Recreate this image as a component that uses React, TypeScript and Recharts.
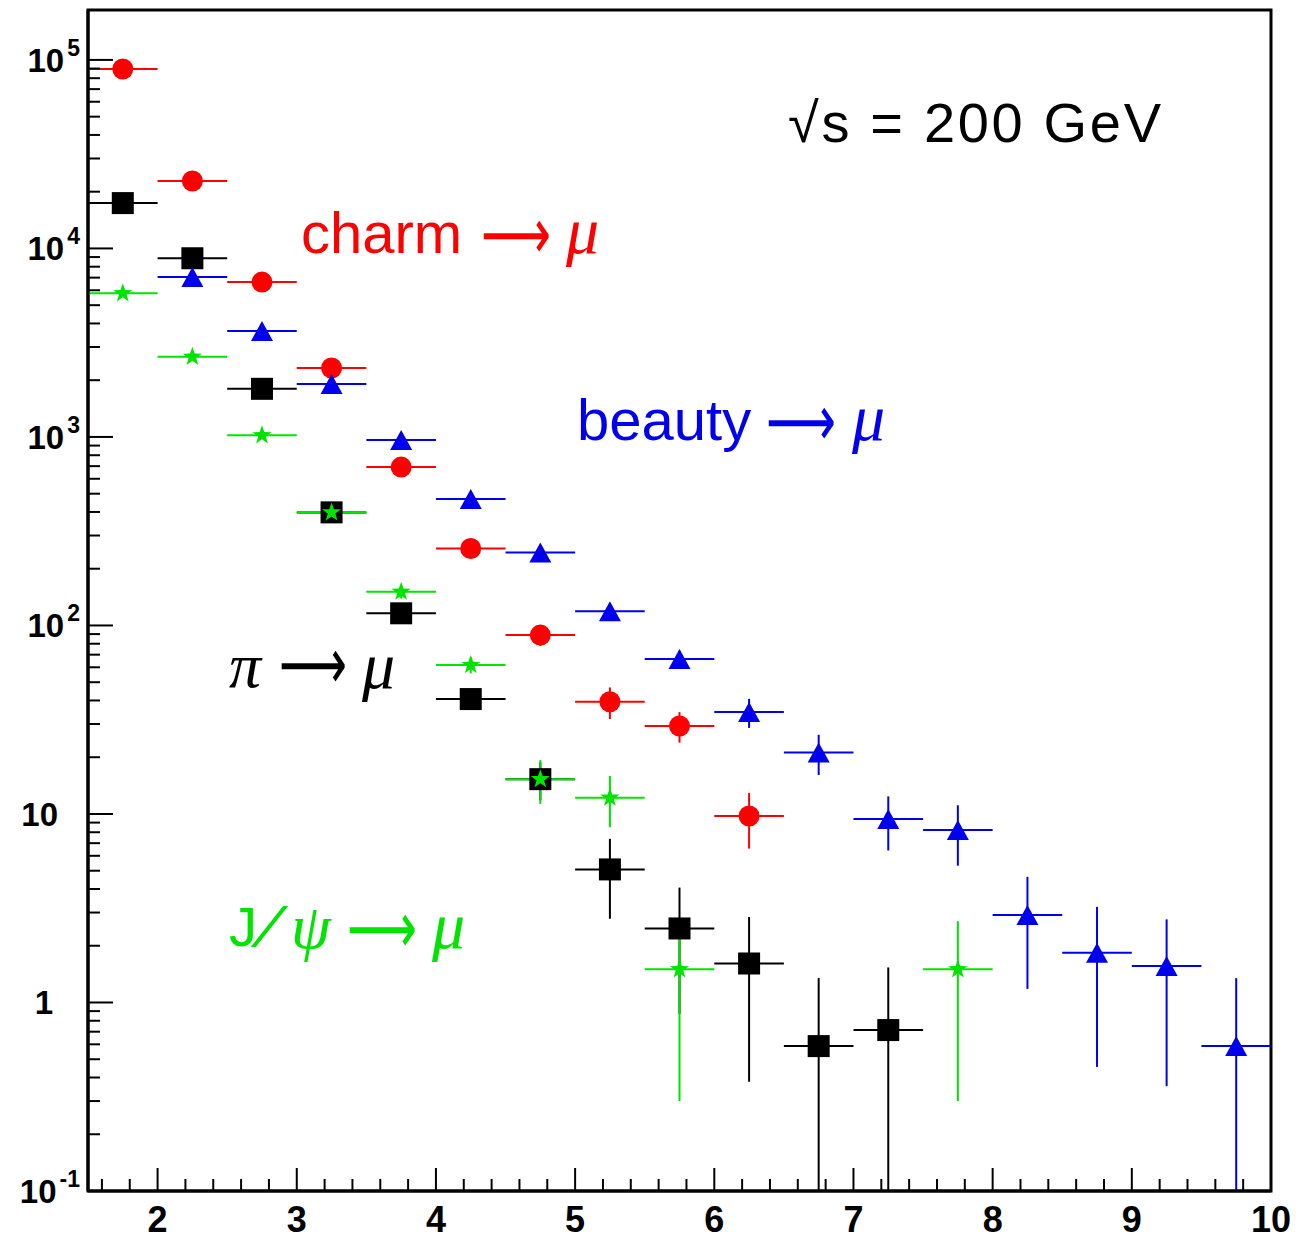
import React from 'react'
import { ScatterChart, Scatter, XAxis, YAxis, ErrorBar, ReferenceArea } from 'recharts'

// bin centres (pT, GeV/c), every bin is 0.5 wide
const BIN_HALF = 0.25

const PION_X = [1.75, 2.25, 2.75, 3.25, 3.75, 4.25, 4.75, 5.25, 5.75, 6.25, 6.75, 7.25]
const PION_Y = [1.74e4, 8.87e3, 1.8e3, 398, 116, 40.7, 15.3, 5.08, 2.47, 1.61, 0.587, 0.714]
const PION_ERR = [0, 0, 0, 0, 10, 5, 3.5, 2.3, 1.6, 1.23, 0.76, 0.82]

const CHARM_X = [1.75, 2.25, 2.75, 3.25, 3.75, 4.25, 4.75, 5.25, 5.75, 6.25]
const CHARM_Y = [8.95e4, 2.28e4, 6.63e3, 2.32e3, 692, 256, 88.9, 39.4, 29.3, 9.75]
const CHARM_ERR = [0, 0, 0, 0, 35, 18, 11, 7.5, 5.4, 3.2]

const BEAUTY_X = [2.25, 2.75, 3.25, 3.75, 4.25, 4.75, 5.25, 5.75, 6.25, 6.75, 7.25, 7.75, 8.25, 8.75, 9.25, 9.75]
const BEAUTY_Y = [7.05e3, 3.65e3, 1.91e3, 963, 469, 244, 119, 66.3, 34.7, 21.2, 9.4, 8.22, 2.91, 1.835, 1.56, 0.587]
const BEAUTY_ERR = [0, 0, 0, 40, 25, 17, 11, 7, 6.1, 5.1, 3.0, 2.9, 1.73, 1.38, 1.2, 0.76]

const JPSI_X = [1.75, 2.25, 2.75, 3.25, 3.75, 4.25, 4.75, 5.25, 5.75, 7.75]
const JPSI_Y = [5.78e3, 2.66e3, 1.02e3, 398, 151, 61.7, 15.3, 12.2, 1.5, 1.5]
const JPSI_ERR = [0, 0, 0, 0, 12, 6, 4.0, 3.7, 1.2, 1.2]

const X_MIN = 1.5
const X_MAX = 10
const Y_MIN = 0.1
const Y_MAX = 1.84e5

// minor ticks every 0.2, labels on the integers
const X_TICKS: number[] = []
for (let i = 8; i <= 50; i++) X_TICKS.push(Math.round(i * 2) / 10)

// log ticks 1..9 x 10^n
const Y_TICKS: number[] = []
for (let e = -1; e <= 5; e++) {
  for (let m = 1; m <= 9; m++) {
    const v = Number((m * Math.pow(10, e)).toPrecision(3))
    if (v <= Y_MAX) Y_TICKS.push(v)
  }
}

const RED = '#ff0000'
const BLUE = '#0000ee'
const GREEN = '#00e400'
const BLACK = '#000000'

const TICK_FONT = '"Liberation Sans", Arial, Helvetica, sans-serif'
const SANS = '"Liberation Sans", Arial, Helvetica, sans-serif'
const SERIF = '"Liberation Serif", "Times New Roman", serif'
const ARROW_FONT = '"DejaVu Sans", sans-serif'

function toPoints(xs: number[], ys: number[], errs: number[]) {
  return xs.map((x, i) => ({
    x,
    y: ys[i],
    ex: BIN_HALF,
    // low side stops at the bottom of the frame
    ey: [Math.min(errs[i], ys[i] - Y_MIN), errs[i]],
  }))
}

const pionData = toPoints(PION_X, PION_Y, PION_ERR)
const charmData = toPoints(CHARM_X, CHARM_Y, CHARM_ERR)
const beautyData = toPoints(BEAUTY_X, BEAUTY_Y, BEAUTY_ERR)
const jpsiData = toPoints(JPSI_X, JPSI_Y, JPSI_ERR)

const circleShape = (color: string) => (p: any) => (
  <circle cx={p.cx} cy={p.cy} r={10.5} fill={color} />
)
const squareShape = (color: string) => (p: any) => (
  <rect x={p.cx - 11} y={p.cy - 11} width={22} height={22} fill={color} />
)
const triangleShape = (color: string) => (p: any) => (
  <polygon
    points={`${p.cx},${p.cy - 10} ${p.cx + 11},${p.cy + 10} ${p.cx - 11},${p.cy + 10}`}
    fill={color}
  />
)
const starShape = (color: string) => (p: any) => {
  const pts: string[] = []
  for (let k = 0; k < 10; k++) {
    const r = k % 2 === 0 ? 10 : 4
    const a = -Math.PI / 2 + (k * Math.PI) / 5
    pts.push(`${p.cx + r * Math.cos(a)},${p.cy + r * Math.sin(a)}`)
  }
  return <polygon points={pts.join(' ')} fill={color} />
}

function XTick(props: any) {
  const { x, y, payload } = props
  const v = payload.value
  const major = Math.abs(v - Math.round(v)) < 1e-6
  return (
    <g>
      <line x1={x} y1={y} x2={x} y2={y - (major ? 23 : 12)} stroke={BLACK} strokeWidth={2} />
      {major && (
        <text x={x} y={y + 41} textAnchor="middle" fontFamily={TICK_FONT} fontWeight="bold" fontSize={36} fill={BLACK}>
          {Math.round(v)}
        </text>
      )}
    </g>
  )
}

function YTick(props: any) {
  const { x, y, payload } = props
  const v = payload.value
  const lg = Math.log10(v)
  const e = Math.round(lg)
  const major = Math.abs(lg - e) < 1e-6
  let label = null
  if (major) {
    if (e === 0 || e === 1) {
      label = (
        <text x={x - (e === 0 ? 35 : 30)} y={y + 12} textAnchor="end" fontFamily={TICK_FONT} fontWeight="bold" fontSize={33} fill={BLACK}>
          {e === 0 ? '1' : '10'}
        </text>
      )
    } else {
      label = (
        <text x={x - 8} y={y + 12} textAnchor="end" fontFamily={TICK_FONT} fontWeight="bold" fontSize={33} fill={BLACK}>
          10
          <tspan dx={3} dy={-16} fontSize={23}>{e < 0 ? `-${-e}` : `${e}`}</tspan>
        </text>
      )
    }
  }
  return (
    <g>
      <line x1={x} y1={y} x2={x + (major ? 25 : 12)} y2={y} stroke={BLACK} strokeWidth={2} />
      {label}
    </g>
  )
}

// long arrow glyph, set small and stretched up so its box stays narrow
function Arrow({ x, y, color, w }: { x: number; y: number; color: string; w: number }) {
  return (
    <text
      transform={`translate(${x},${y}) scale(1,1.64)`}
      x={0}
      y={0}
      fontFamily={ARROW_FONT}
      fontSize={44}
      fill={color}
      textLength={w}
      lengthAdjust="spacingAndGlyphs"
    >
      ⟶
    </text>
  )
}

function Greek({ x, y, color, t, size = 66 }: { x: number; y: number; color: string; t: string; size?: number }) {
  return (
    <text x={x} y={y} fontFamily={SERIF} fontStyle="italic" fontSize={size} fill={color}>
      {t}
    </text>
  )
}

function Annotations() {
  return (
    <svg
      width={1296}
      height={1239}
      style={{ position: 'absolute', left: 0, top: 0, pointerEvents: 'none' }}
    >
      <text x={788} y={142} fontFamily={SANS} fontSize={56} fill={BLACK} textLength={373} lengthAdjust="spacing">
        √s = 200 GeV
      </text>

      <text x={301} y={253} fontFamily={SANS} fontSize={58} fill={RED}>charm</text>
      <Arrow x={481} y={259} color={RED} w={70} />
      <Greek x={566} y={253} color={RED} t="μ" />

      <text x={577} y={440} fontFamily={SANS} fontSize={58} fill={BLUE}>beauty</text>
      <Arrow x={766} y={446} color={BLUE} w={70} />
      <Greek x={852} y={440} color={BLUE} t="μ" />

      <Greek x={229} y={687} color={BLACK} t="π" size={64} />
      <Arrow x={279} y={689} color={BLACK} w={68} />
      <Greek x={362} y={688} color={BLACK} t="μ" />

      <text x={229} y={946} fontFamily={SANS} fontSize={56} fill={GREEN}>J</text>
      <text x={255} y={946} fontFamily={SERIF} fontStyle="italic" fontSize={62} fill={GREEN} textLength={26} lengthAdjust="spacingAndGlyphs">/</text>
      <Greek x={291} y={948} color={GREEN} t="ψ" size={64} />
      <Arrow x={347} y={953} color={GREEN} w={70} />
      <Greek x={432} y={948} color={GREEN} t="μ" />
    </svg>
  )
}

export default function App() {
  const sets = [
    { name: 'pion', data: pionData, color: BLACK, shape: squareShape(BLACK) },
    { name: 'charm', data: charmData, color: RED, shape: circleShape(RED) },
    { name: 'beauty', data: beautyData, color: BLUE, shape: triangleShape(BLUE) },
    { name: 'jpsi', data: jpsiData, color: GREEN, shape: starShape(GREEN) },
  ]
  return (
    <div style={{ position: 'absolute', left: 0, top: 0, width: 1296, height: 1239, background: '#fff' }}>
      <ScatterChart width={1296} height={1239} margin={{ top: 10, right: 25, bottom: 0, left: 0 }}>
        <XAxis
          type="number"
          dataKey="x"
          domain={[X_MIN, X_MAX]}
          allowDataOverflow
          ticks={X_TICKS}
          interval={0}
          height={48}
          tickSize={0}
          tickMargin={0}
          tickLine={false}
          axisLine={{ stroke: BLACK, strokeWidth: 3 }}
          tick={(p: any) => <XTick {...p} />}
        />
        <YAxis
          type="number"
          dataKey="y"
          scale="log"
          domain={[Y_MIN, Y_MAX]}
          allowDataOverflow
          ticks={Y_TICKS}
          interval={0}
          width={88}
          tickSize={0}
          tickMargin={0}
          tickLine={false}
          axisLine={{ stroke: BLACK, strokeWidth: 3 }}
          tick={(p: any) => <YTick {...p} />}
        />
        <ReferenceArea
          x1={X_MIN}
          x2={X_MAX}
          y1={Y_MIN}
          y2={Y_MAX}
          fill="none"
          stroke={BLACK}
          strokeWidth={3}
          ifOverflow="visible"
        />
        {sets.map((s) => (
          <Scatter key={s.name} name={s.name} data={s.data} shape={s.shape} isAnimationActive={false}>
            <ErrorBar dataKey="ex" direction="x" width={0} stroke={s.color} strokeWidth={2} />
            <ErrorBar dataKey="ey" direction="y" width={0} stroke={s.color} strokeWidth={2} />
          </Scatter>
        ))}
      </ScatterChart>
      <Annotations />
    </div>
  )
}
